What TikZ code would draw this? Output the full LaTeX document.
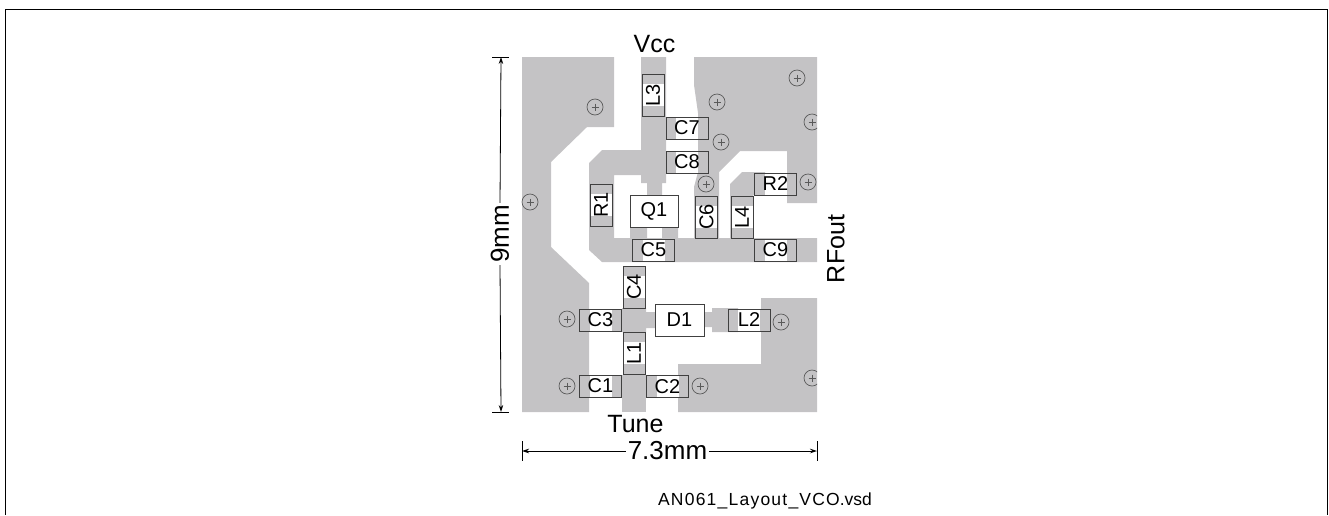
\documentclass[tikz,border=0pt]{standalone}
\usepackage{fontspec}
\setmainfont{Liberation Sans}
\newfontfamily\spacedfont[LetterSpace=7]{Liberation Sans}
\usetikzlibrary{arrows.meta}
\definecolor{copper}{HTML}{C4C3C5}
\definecolor{edgeline}{HTML}{404040}
\definecolor{vialine}{HTML}{5A5A5A}
\newcommand{\bbx}{path picture bounding box}
\tikzset{
  x=1pt,y=-1pt,
  cu/.style={fill=copper,draw=none},
  comp/.style={draw=edgeline,line width=0.8pt,fill=white,inner sep=0pt,font=\fontsize{20}{20}\selectfont},
  hcomp/.style={comp,minimum width=42pt,minimum height=22pt,
    path picture={
      \fill[copper] (\bbx.south west) rectangle ([xshift=10pt]\bbx.north west);
      \fill[copper] (\bbx.south east) rectangle ([xshift=-10pt]\bbx.north east);
    }},
  vcomp/.style={comp,minimum width=22pt,minimum height=42pt,
    path picture={
      \fill[copper] (\bbx.south west) rectangle ([yshift=10pt]\bbx.south east);
      \fill[copper] (\bbx.north west) rectangle ([yshift=-10pt]\bbx.north east);
    }},
  lab/.style={inner sep=1pt,font=\fontsize{25}{25}\selectfont},
  dim/.style={line width=0.8pt,-{Stealth[length=7pt,width=4.5pt]}},
  tick/.style={line width=0.8pt},
  viaring/.style={draw=vialine,line width=0.7pt},
}
\newcommand{\viamark}[2]{%
  \draw[viaring] (#1,#2) circle[radius=8];
  \draw[viaring,line width=0.5pt] (#1-3.5,#2) -- (#1+3.5,#2) (#1,#2-3.5) -- (#1,#2+3.5);}
\begin{document}
\begin{tikzpicture}
\useasboundingbox (0,0) rectangle (1329,515);
\draw[line width=1.1pt,line join=miter] (5.5,515) -- (5.5,9.5) -- (1327.5,9.5) -- (1327.5,515);

% copper
\fill[cu] (522,57) -- (614,57) -- (614,127) -- (587,127) -- (551,162) -- (551,247) -- (589,283) -- (589,412) -- (522,412) -- cycle;
\fill[cu] (641,57) -- (666,57) -- (666,183) -- (662,183) -- (662,202) -- (647,202) -- (647,183) -- (641,183) -- (641,175) -- (614,175) -- (614,238) -- (630,238) -- (630,220) -- (647,220) -- (647,238) -- (662,238) -- (662,220) -- (678,220) -- (678,238) -- (817,238) -- (817,262) -- (602,262) -- (589,250) -- (589,163) -- (602,150) -- (641,150) -- cycle;
\fill[cu] (694,57) -- (817,57) -- (817,203) -- (787,203) -- (787,151) -- (740,151) -- (719,172) -- (719,238) -- (694,238) -- (694,187) -- (698,172) -- (698,113) -- (694,85) -- cycle;
\fill[cu] (730,238) -- (730,184) -- (742,172) -- (765,172) -- (765,195) -- (753,195) -- (753,238) -- cycle;
\fill[cu] (622,308) -- (646,308) -- (646,312) -- (656,312) -- (656,328) -- (646,328) -- (646,332) -- (622,332) -- (622,331) -- (612,331) -- (612,309) -- (622,309) -- cycle;
\fill[cu] (704,312) -- (712,312) -- (712,308) -- (738,308) -- (738,332) -- (712,332) -- (712,327) -- (704,327) -- cycle;
\fill[cu] (622,375) -- (646,375) -- (646,412) -- (622,412) -- cycle;
\fill[cu] (761,298) -- (817,298) -- (817,412) -- (678,412) -- (678,364) -- (761,364) -- cycle;

% vias
\begin{scope}
\clip (0,0) rectangle (817,515);
\viamark{595}{107}\viamark{530}{202}\viamark{717}{102}\viamark{797}{78}
\viamark{812}{122}\viamark{721}{142}\viamark{706}{184}\viamark{808}{182}
\viamark{567}{319}\viamark{567}{386}\viamark{700}{386}\viamark{781}{322}
\viamark{812}{378}
\end{scope}

% components
\node[hcomp] (C7) at (687,128) {C7};
\node[hcomp] (C8) at (687,162) {C8};
\node[hcomp] (R2) at (775.5,184) {R2};
\node[hcomp] (C5) at (653.5,250) {C5};
\node[hcomp] (C9) at (775.5,250) {C9};
\node[hcomp] (C3) at (600.5,320) {C3};
\node[hcomp] (L2) at (749,320) {L2};
\node[hcomp] (C1) at (600.5,386) {C1};
\node[hcomp] (C2) at (667.5,386.5) {C2};
\node[vcomp] (L3) at (653,95) {\rotatebox{90}{L3}};
\node[vcomp] (R1) at (601,205) {\rotatebox{90}{R1}};
\node[vcomp] (C6) at (706.5,217) {\rotatebox{90}{C6}};
\node[vcomp] (L4) at (742,217) {\rotatebox{90}{L4}};
\node[vcomp] (C4) at (634,287) {\rotatebox{90}{C4}};
\node[vcomp] (L1) at (634,353) {\rotatebox{90}{L1}};
\node[comp,minimum width=48pt,minimum height=32pt,
  path picture={
    \fill[copper] (646.5,195) rectangle (662,202);
    \fill[copper] (630,220) rectangle (678,227);
  }] (Q1) at (654,211) {Q1};
\node[comp,minimum width=49pt,minimum height=32pt,
  path picture={
    \fill[copper] (655,312) rectangle (660,328);
    \fill[copper] (698,312) rectangle (704,328);
  }] (D1) at (679.5,320) {D1};

% labels
\node[lab] (vcc) at (654.5,44) {Vcc};
\node[lab] (tune) at (635.5,424) {Tune};
\node[lab,rotate=90] (rfout) at (836,249) {RFout};
\node[lab,font=\fontsize{17.5}{17.5}\selectfont] (file) at (765,500.5) {{\spacedfont AN061\_Layout\_VCO}.vsd};

% dimensions
\node[lab,rotate=90,font=\fontsize{26}{26}\selectfont,inner sep=2pt] (nine) at (500,234) {9mm};
\node[lab,font=\fontsize{26}{26}\selectfont,inner sep=2pt] (seven) at (667.5,451) {7.3mm};
\coordinate (dt) at (501,57);
\coordinate (db) at (501,412);
\coordinate (dl) at (522,451);
\coordinate (dr) at (817,451);
\draw[dim] (nine.east) -- (dt);
\draw[dim] (nine.west) -- (db);
\draw[dim] (seven.west) -- (dl);
\draw[dim] (seven.east) -- (dr);
\draw[tick] (492,57) -- (509,57) (492,412) -- (509,412);
\draw[tick] (522,441) -- (522,461) (817,441) -- (817,461);
\end{tikzpicture}
\end{document}
